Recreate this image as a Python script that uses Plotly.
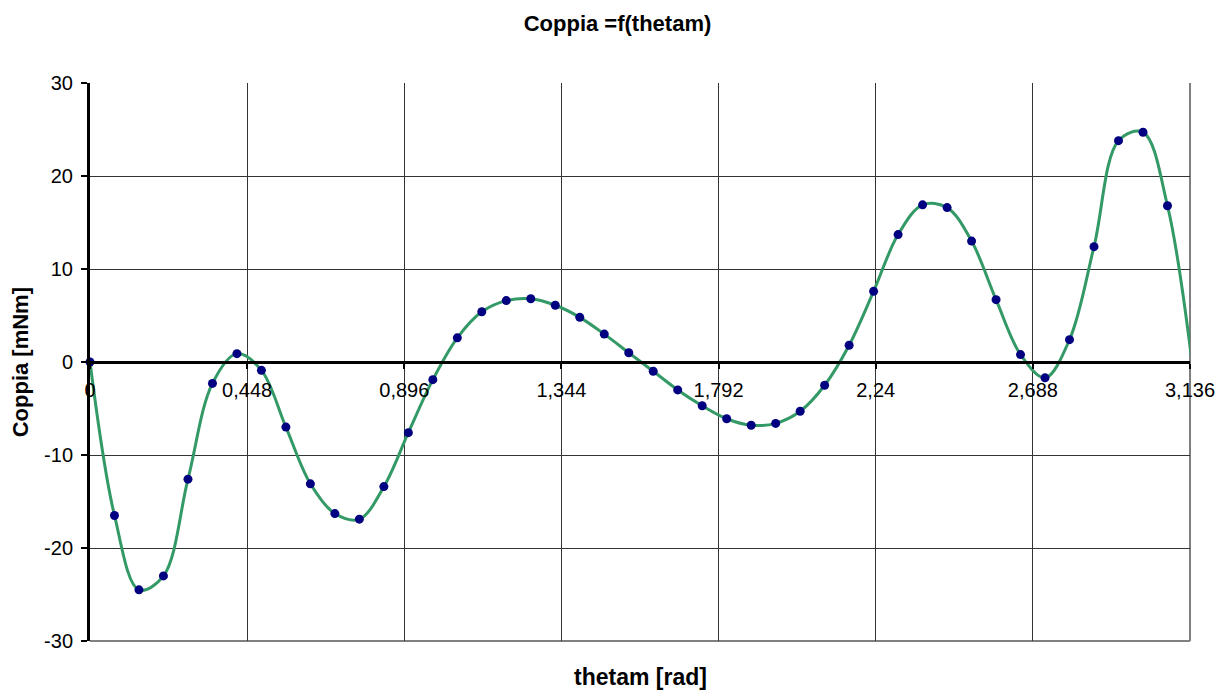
import plotly.graph_objects as go

# angle (rad) and torque (mNm)
thetam = [0, 0.0698, 0.1396, 0.2094, 0.2793, 0.3491, 0.4189, 0.4887, 0.5585, 0.6283,
          0.6981, 0.7679, 0.8378, 0.9076, 0.9774, 1.0472, 1.1170, 1.1868, 1.2566, 1.3265,
          1.3963, 1.4661, 1.5359, 1.6057, 1.6755, 1.7453, 1.8151, 1.8850, 1.9548, 2.0246,
          2.0944, 2.1642, 2.2340, 2.3038, 2.3736, 2.4435, 2.5133, 2.5831, 2.6529, 2.7227,
          2.7925, 2.8623, 2.9322, 3.0020, 3.0718, 3.1416]
coppia = [0, -16.5, -24.5, -23.0, -12.6, -2.3, 0.9, -0.9, -7.0, -13.1,
          -16.3, -16.9, -13.4, -7.6, -1.9, 2.6, 5.4, 6.6, 6.8, 6.1,
          4.8, 3.0, 1.0, -1.0, -3.0, -4.7, -6.1, -6.8, -6.6, -5.3,
          -2.5, 1.8, 7.6, 13.7, 16.9, 16.6, 13.0, 6.7, 0.8, -1.7,
          2.4, 12.4, 23.8, 24.7, 16.8, 0.0]

x_ticks = [0, 0.448, 0.896, 1.344, 1.792, 2.24, 2.688, 3.136]
x_labels = ["0", "0,448", "0,896", "1,344", "1,792", "2,24", "2,688", "3,136"]
y_ticks = [-30, -20, -10, 0, 10, 20, 30]
y_labels = ["-30", "-20", "-10", "0", "10", "20", "30"]

X_MAX = 3.136
FONT = "Liberation Sans, Arial, sans-serif"

# page body adds an 8px offset, so the figure is sized/margined to compensate
W, H = 1219, 682
ML, MR, MT, MB = 82, 32, 75, 49

fig = go.Figure()

# smoothed line through all points (clipped at axis end like Excel)
fig.add_trace(go.Scatter(
    x=thetam, y=coppia, mode="lines",
    line=dict(color="#339966", width=3, shape="spline", smoothing=1),
    showlegend=False, hoverinfo="skip",
))

# markers only for points inside the axis range
pts = [(t, c) for t, c in zip(thetam, coppia) if t <= X_MAX]
fig.add_trace(go.Scatter(
    x=[p[0] for p in pts], y=[p[1] for p in pts], mode="markers",
    marker=dict(color="#000080", size=9),
    cliponaxis=False, showlegend=False,
))

plot_w = W - ML - MR
plot_h = H - MT - MB

fig.update_layout(
    width=W, height=H,
    paper_bgcolor="white", plot_bgcolor="white",
    margin=dict(l=ML, r=MR, t=MT, b=MB),
    font=dict(family=FONT, color="black", size=20),
    title=dict(text="<b>Coppia =f(thetam)</b>", x=0.5, xanchor="center",
               y=1 - 15 / H, yanchor="middle", font=dict(size=22)),
    xaxis=dict(
        range=[0, X_MAX], tickvals=x_ticks, ticktext=x_labels,
        anchor="free", position=0.5,
        showline=True, linecolor="black", linewidth=3,
        ticks="outside", ticklen=5, tickwidth=2, tickcolor="black",
        ticklabelstandoff=4,
        showgrid=True, gridcolor="#333", gridwidth=1, zeroline=False,
        tickfont=dict(size=20),
    ),
    yaxis=dict(
        range=[-30, 30], tickvals=y_ticks, ticktext=y_labels,
        showline=True, linecolor="black", linewidth=3,
        ticks="outside", ticklen=6, tickwidth=2, tickcolor="black",
        ticklabelstandoff=4,
        showgrid=True, gridcolor="#333", gridwidth=1, zeroline=False,
        tickfont=dict(size=20),
    ),
    shapes=[
        dict(type="line", xref="paper", yref="paper", x0=1, x1=1, y0=0, y1=1,
             line=dict(color="#808080", width=2), layer="between"),
        dict(type="line", xref="paper", yref="paper", x0=0, x1=1, y0=0, y1=0,
             line=dict(color="#808080", width=2), layer="between"),
    ],
    annotations=[
        dict(text="<b>thetam [rad]</b>", xref="paper", yref="paper",
             x=0.5, y=-36 / plot_h, xanchor="center", yanchor="middle",
             showarrow=False, font=dict(size=23)),
        dict(text="<b>Coppia [mNm]</b>", xref="paper", yref="paper",
             x=-70 / plot_w, y=0.5, xanchor="center", yanchor="middle",
             textangle=-90, showarrow=False, font=dict(size=22)),
    ],
)

fig.write_html("out.html")
